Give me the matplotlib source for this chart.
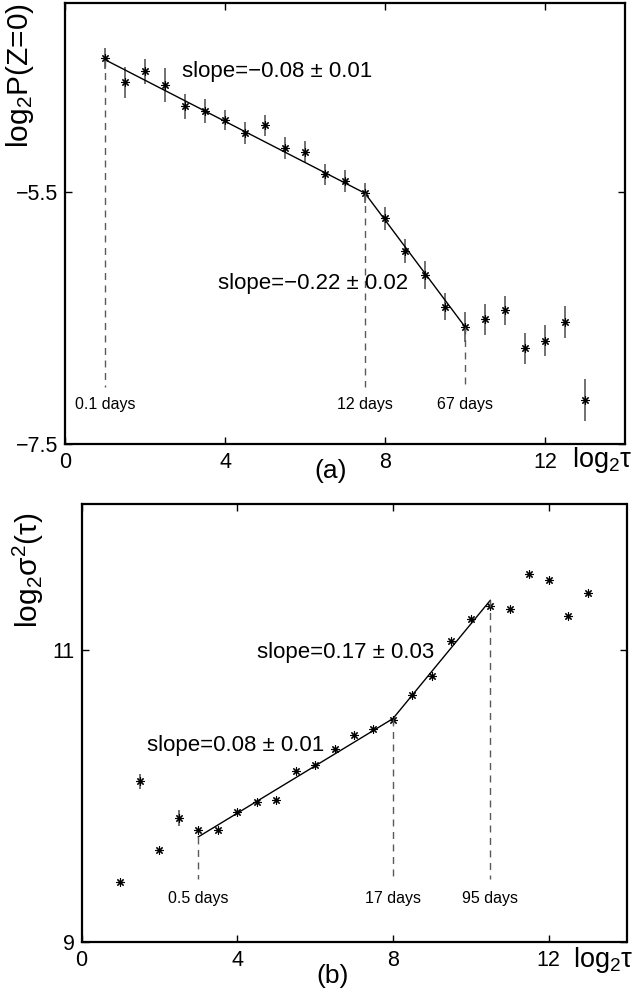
import matplotlib
matplotlib.use("Agg")
import matplotlib.pyplot as plt

plt.rcParams["font.family"] = ["Liberation Sans", "DejaVu Sans"]
plt.rcParams["mathtext.fontset"] = "custom"
plt.rcParams["mathtext.rm"] = "Liberation Sans"
plt.rcParams["mathtext.it"] = "Liberation Sans"
plt.rcParams["axes.unicode_minus"] = True

# panel (a): log2 P(Z=0) vs log2 tau
top_x = [1, 1.5, 2, 2.5, 3, 3.5, 4, 4.5, 5, 5.5, 6, 6.5, 7, 7.5, 8, 8.5, 9,
         9.5, 10, 10.5, 11, 11.5, 12, 12.5, 13]
top_y = [-4.44, -4.63, -4.54, -4.65, -4.82, -4.86, -4.93, -5.03, -4.97, -5.15,
         -5.18, -5.36, -5.41, -5.51, -5.71, -5.97, -6.16, -6.41, -6.57, -6.51,
         -6.44, -6.74, -6.68, -6.53, -7.15]
top_err = [0.083, 0.125, 0.099, 0.135, 0.097, 0.095, 0.079, 0.089, 0.083,
           0.089, 0.083, 0.086, 0.087, 0.079, 0.090, 0.095, 0.109, 0.106,
           0.119, 0.123, 0.117, 0.123, 0.123, 0.127, 0.164]
top_fit_x = [1, 7.5, 10]
top_fit_y = [-4.45, -5.51, -6.57]
top_marks = [1, 7.5, 10]
top_mark_labels = ["0.1 days", "12 days", "67 days"]
top_slopes = ["slope=\u22120.08 \u00b1 0.01", "slope=\u22120.22 \u00b1 0.02"]

# panel (b): log2 sigma^2(tau) vs log2 tau
bot_x = [1, 1.5, 2, 2.5, 3, 3.5, 4, 4.5, 5, 5.5, 6, 6.5, 7, 7.5, 8, 8.5, 9,
         9.5, 10, 10.5, 11, 11.5, 12, 12.5, 13]
bot_y = [9.41, 10.10, 9.63, 9.85, 9.77, 9.77, 9.89, 9.96, 9.97, 10.17, 10.21,
         10.32, 10.42, 10.46, 10.52, 10.69, 10.82, 11.06, 11.21, 11.30, 11.28,
         11.52, 11.48, 11.23, 11.39]
bot_err = [0, 0.05, 0, 0.053, 0, 0, 0, 0, 0, 0, 0, 0, 0, 0, 0, 0, 0, 0, 0, 0,
           0, 0, 0, 0, 0]
bot_fit_x = [3, 8, 10.5]
bot_fit_y = [9.72, 10.53, 11.34]
bot_marks = [3, 8, 10.5]
bot_mark_labels = ["0.5 days", "17 days", "95 days"]
bot_slopes = ["slope=0.08 \u00b1 0.01", "slope=0.17 \u00b1 0.03"]

W, H = 639, 988
fig = plt.figure(figsize=(W / 100, H / 100), dpi=100)


def px_axes(left, right, top, bottom):
    return fig.add_axes([left / W, 1 - bottom / H, (right - left) / W, (bottom - top) / H])


def style(ax, xlim, ylim, yticks):
    ax.set_xlim(*xlim)
    ax.set_ylim(*ylim)
    ax.set_xticks([0, 4, 8, 12])
    ax.set_yticks(yticks)
    ax.set_yticklabels([f"{t:g}".replace("-", "\u2212") for t in yticks])
    ax.tick_params(direction="in", top=True, right=True, length=5, width=1,
                   labelsize=15.5)
    ax.tick_params(axis="x", pad=6)
    ax.tick_params(axis="y", pad=5)
    for s in ax.spines.values():
        s.set_linewidth(1.6)


def draw(ax, x, y, err, fit_x, fit_y, marks, mark_labels, dash_bottom, label_y):
    ax.errorbar(x, y, yerr=err, fmt="none", ecolor="0.35", elinewidth=1.2)
    ax.plot(fit_x, fit_y, color="black", lw=1)
    ax.plot(x, y, ls="none", marker=(8, 2, 0), ms=6, mec="black", mew=0.8)
    for m, lab in zip(marks, mark_labels):
        top = fit_y[fit_x.index(m)]
        ax.plot([m, m], [top, dash_bottom], color="0.35", lw=1,
                ls=(0, (5, 4)))
        ax.text(m, label_y, lab, ha="center", va="center", fontsize=11.5)


# (a)
ax1 = px_axes(65, 625, 3, 444)
style(ax1, (0, 14), (-7.5, -4), [-7.5, -5.5])
draw(ax1, top_x, top_y, top_err, top_fit_x, top_fit_y, top_marks,
     top_mark_labels, -7.05, -7.19)
ax1.text(2.92, -4.545, top_slopes[0], ha="left", va="center", fontsize=16)
ax1.text(3.83, -6.225, top_slopes[1], ha="left", va="center", fontsize=16)

# (b)
ax2 = px_axes(81.5, 626.5, 504, 942)
style(ax2, (0, 14), (9, 12), [9, 11])
draw(ax2, bot_x, bot_y, bot_err, bot_fit_x, bot_fit_y, bot_marks,
     bot_mark_labels, 9.43, 9.30)
ax2.text(1.675, 10.347, bot_slopes[0], ha="left", va="center", fontsize=16)
ax2.text(4.50, 10.984, bot_slopes[1], ha="left", va="center", fontsize=16)

# axis labels placed as in the original layout
fig.text(20 / W, 1 - 3 / H, r"log$_2$P(Z=0)", rotation=90, ha="center",
         va="top", fontsize=21.5)
fig.text(28 / W, 1 - 512 / H, r"log$_2$σ$^2$(τ)", rotation=90, ha="center",
         va="top", fontsize=21.5)
fig.text(572 / W, 1 - 467 / H, r"log$_2$τ", ha="left", va="baseline",
         fontsize=19.5)
fig.text(573 / W, 1 - 967 / H, r"log$_2$τ", ha="left", va="baseline",
         fontsize=19.5)
fig.text(331 / W, 1 - 471 / H, "(a)", ha="center", va="center", fontsize=19)
fig.text(333 / W, 1 - 976 / H, "(b)", ha="center", va="center", fontsize=19)

fig.savefig("out.png", dpi=100)
